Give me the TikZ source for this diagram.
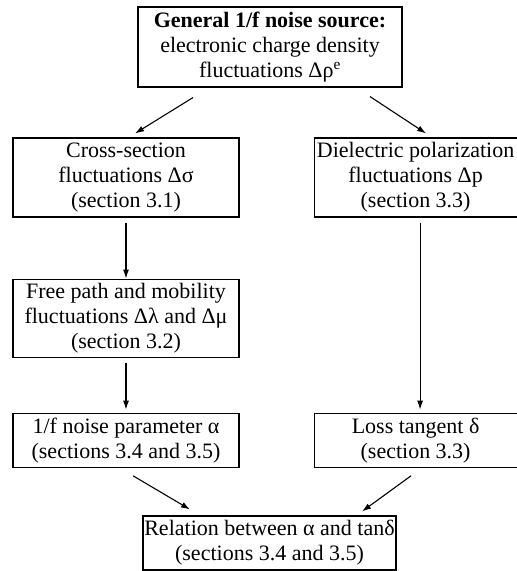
\documentclass[tikz,border=0pt]{standalone}
\usepackage{fontspec}
\setmainfont{Liberation Serif}
\usepackage{tikz}
\usetikzlibrary{arrows,arrows.meta,positioning}

\begin{document}
\begin{tikzpicture}[x=1pt, y=1pt, >={Latex[length=9pt, width=6pt]},
    box/.style={draw, line width=1.1pt, align=center, inner sep=0pt, font=\fontsize{22}{25}\selectfont},
    wide/.style={box, minimum width=226pt},
    narrow/.style={box, minimum width=203pt},
    link/.style={->, line width=1.1pt}]
      \useasboundingbox (0,0) rectangle (517,-571);
      \node (src)[box, minimum width=264pt, minimum height=80pt] at (270,-47) {\textbf{General 1/f noise source:}\\ electronic charge density\\ fluctuations Δρ\textsuperscript{e}};
      \node (cs)[wide, minimum height=79pt] at (126,-177.5) {Cross-section\\ fluctuations Δσ\\ (section 3.1)};
      \node (dp)[narrow, minimum height=79pt, right=74pt of cs] {Dielectric polarization\\ fluctuations Δp\\ (section 3.3)};
      \node (fp)[wide, minimum height=78pt, below=61pt of cs] {Free path and mobility\\ fluctuations Δλ and Δμ\\ (section 3.2)};
      \node (alpha)[wide, minimum height=54pt, below=55pt of fp] {1/f noise parameter α\\ (sections 3.4 and 3.5)};
      \node (loss)[narrow, minimum height=54pt, right=74pt of alpha] {Loss tangent δ\\ (section 3.3)};
      \node (rel)[box, minimum width=253pt, minimum height=54pt] at (269.5,-543) {Relation between α and tanδ\\ (sections 3.4 and 3.5)};

      \draw[link] ([xshift=-77pt, yshift=-10pt]src.south) -- ([xshift=9pt, yshift=4pt]cs.north);
      \draw[link] ([xshift=100pt, yshift=-9pt]src.south) -- ([xshift=10.5pt, yshift=4pt]dp.north);
      \draw[link, shorten <=5pt] (cs.south) -- (fp.north);
      \draw[link, shorten <=5pt, shorten >=3pt] (fp.south) -- (alpha.north);
      \draw[link, shorten <=5pt, shorten >=3pt] ([xshift=4.5pt]dp.south) -- ([xshift=4.5pt]loss.north);
      \draw[link] ([xshift=7pt, yshift=-8pt]alpha.south) -- ([xshift=-79.5pt, yshift=6pt]rel.north);
      \draw[link] ([xshift=-4.5pt, yshift=-8pt]loss.south) -- ([xshift=92.5pt, yshift=4pt]rel.north);
    \end{tikzpicture}
\end{document}
